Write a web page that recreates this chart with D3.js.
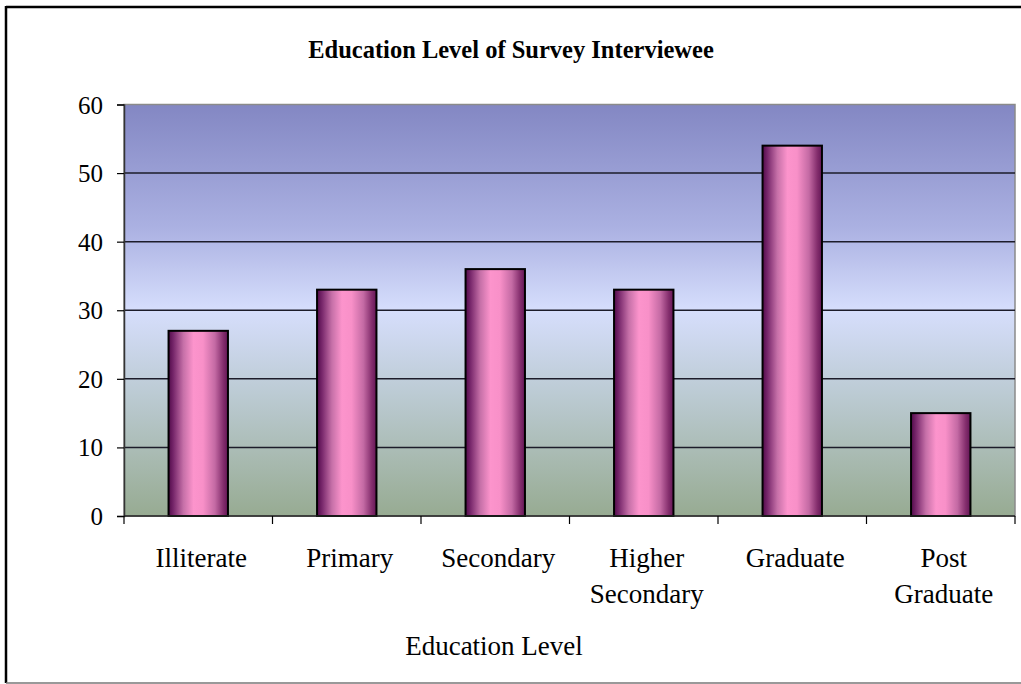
<!DOCTYPE html>
<html>
<head>
<meta charset="utf-8">
<script src="https://cdn.jsdelivr.net/npm/d3@7"></script>
<style>
  html, body { margin: 0; padding: 0; background: #fff; }
  svg { display: block; }
  text { font-family: "Liberation Serif", "Times New Roman", serif; fill: #000; }
</style>
</head>
<body>
<svg id="chart" width="1021" height="684"></svg>
<script>
// Survey interviewees by education level
const categories = ["Illiterate", "Primary", "Secondary", "Higher Secondary", "Graduate", "Post Graduate"];
const counts = [27, 33, 36, 33, 54, 15];
const categoryLines = [["Illiterate"], ["Primary"], ["Secondary"], ["Higher", "Secondary"], ["Graduate"], ["Post", "Graduate"]];
const yTicks = [0, 10, 20, 30, 40, 50, 60];
const chartTitle = "Education Level of Survey Interviewee";
const xTitle = "Education Level";

const svg = d3.select("#chart");
const W = 1021, H = 684;
const plot = { left: 124, top: 104.5, right: 1015, bottom: 516 };

const defs = svg.append("defs");

// Plot-area wash: blue at the top, pale in the middle, sage green at the floor
const bg = defs.append("linearGradient").attr("id", "plotBg")
  .attr("x1", 0).attr("y1", 0).attr("x2", 0).attr("y2", 1);
[[0, "#8387c3"], [0.3, "#abb1e2"], [0.5, "#d6defc"], [0.7, "#bccbd4"], [1, "#97ab92"]]
  .forEach(([o, c]) => bg.append("stop").attr("offset", o).attr("stop-color", c));

// Cylinder-like shading across each bar
const barG = defs.append("linearGradient").attr("id", "barFill")
  .attr("x1", 0).attr("y1", 0).attr("x2", 1).attr("y2", 0);
[[0, "#520a4a"], [0.08, "#76266a"], [0.25, "#c670a8"], [0.42, "#fc94cc"], [0.58, "#f890c8"], [0.78, "#c46aa4"], [0.92, "#842e6d"], [1, "#641656"]]
  .forEach(([o, c]) => barG.append("stop").attr("offset", o).attr("stop-color", c));

// Chart border (left, top and bottom edges)
svg.append("line").attr("x1", 6).attr("x2", W).attr("y1", 7).attr("y2", 7)
  .attr("stroke", "#000").attr("stroke-width", 2.5);
svg.append("line").attr("x1", 6).attr("x2", 6).attr("y1", 6).attr("y2", 683)
  .attr("stroke", "#000").attr("stroke-width", 2.5);
svg.append("line").attr("x1", 6).attr("x2", W).attr("y1", 683).attr("y2", 683)
  .attr("stroke", "#777").attr("stroke-width", 1.5);

const x = d3.scaleBand().domain(categories).range([plot.left, plot.right]).paddingInner(0.6).paddingOuter(0.3);
const y = d3.scaleLinear().domain([0, 60]).range([plot.bottom, plot.top]);

// Plot area
svg.append("rect").attr("x", plot.left).attr("y", plot.top)
  .attr("width", plot.right - plot.left).attr("height", plot.bottom - plot.top)
  .attr("fill", "url(#plotBg)").attr("stroke", "#8a8a8a").attr("stroke-width", 1.5);

// Gridlines
svg.append("g").selectAll("line").data(yTicks.filter(d => d > 0 && d < 60)).join("line")
  .attr("x1", plot.left).attr("x2", plot.right)
  .attr("y1", d => y(d)).attr("y2", d => y(d))
  .attr("stroke", "#1c1c2a").attr("stroke-width", 1.5);

// Bars
svg.append("g").selectAll("rect").data(categories).join("rect")
  .attr("x", d => x(d))
  .attr("y", (d, i) => y(counts[i]))
  .attr("width", x.bandwidth())
  .attr("height", (d, i) => y(0) - y(counts[i]))
  .attr("fill", "url(#barFill)")
  .attr("stroke", "#000").attr("stroke-width", 2);

// Y axis
const yAxis = d3.axisLeft(y).tickValues(yTicks).tickSize(7).tickPadding(14).tickFormat(d3.format("d"));
const gy = svg.append("g").attr("transform", `translate(${plot.left},0)`).call(yAxis);
gy.select(".domain").attr("stroke", "#333").attr("stroke-width", 1.5);
gy.selectAll(".tick line").attr("stroke", "#000").attr("stroke-width", 1.2);
gy.selectAll(".tick text").attr("font-size", 25).attr("font-family", "Liberation Serif").attr("fill", "#000").attr("dy", "0.34em");

// X axis: ticks sit between categories
const boundaries = d3.range(categories.length + 1).map(i => plot.left + i * (plot.right - plot.left) / categories.length);
svg.append("line").attr("x1", plot.left).attr("x2", plot.right)
  .attr("y1", plot.bottom).attr("y2", plot.bottom).attr("stroke", "#222").attr("stroke-width", 1.5);
svg.append("g").selectAll("line").data(boundaries).join("line")
  .attr("x1", d => d).attr("x2", d => d)
  .attr("y1", plot.bottom).attr("y2", plot.bottom + 8)
  .attr("stroke", "#000").attr("stroke-width", 1.2);

// Category labels
const labelX = d => x(d) + x.bandwidth() / 2 + 3;
const labels = svg.append("g").selectAll("text").data(categories).join("text")
  .attr("x", labelX)
  .attr("y", 567)
  .attr("text-anchor", "middle")
  .attr("font-size", 27);
labels.each(function (d, i) {
  const t = d3.select(this);
  categoryLines[i].forEach((line, k) => {
    t.append("tspan").attr("x", labelX(d)).attr("dy", k === 0 ? 0 : 36).text(line);
  });
});

// Titles
svg.append("text").attr("x", 511).attr("y", 58).attr("text-anchor", "middle")
  .attr("font-size", 24.5).attr("font-weight", "bold").text(chartTitle);
svg.append("text").attr("x", 494).attr("y", 655).attr("text-anchor", "middle")
  .attr("font-size", 27).text(xTitle);
</script>
</body>
</html>
